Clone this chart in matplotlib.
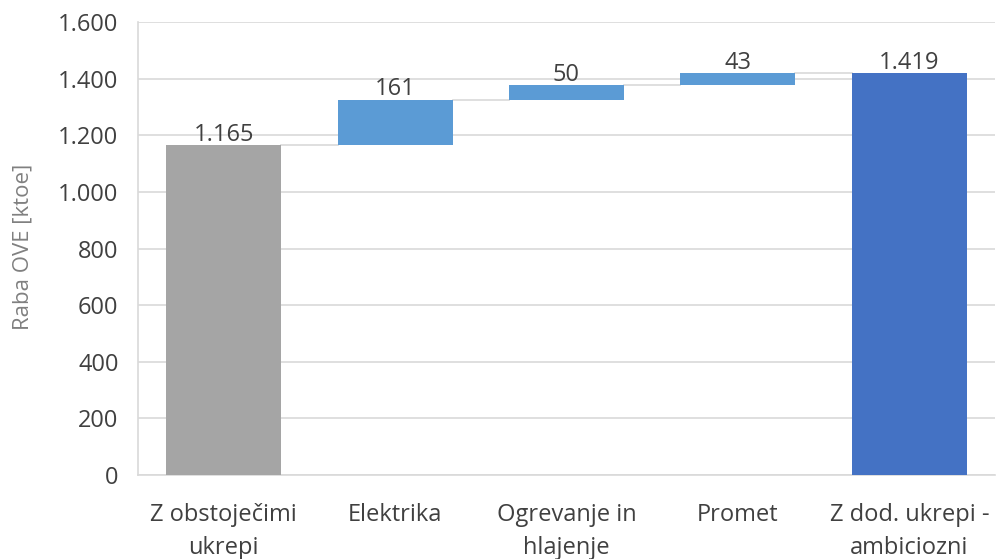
import matplotlib
matplotlib.use("Agg")
import matplotlib.pyplot as plt
from matplotlib.ticker import FuncFormatter, MultipleLocator

plt.rcParams['font.family'] = ['Open Sans', 'DejaVu Sans']

categories = ['Z obstoječimi\nukrepi', 'Elektrika', 'Ogrevanje in\nhlajenje',
              'Promet', 'Z dod. ukrepi -\nambiciozni']
start_value = 1165
increments = [161, 50, 43]
end_value = 1419
labels = ['1.165', '161', '50', '43', '1.419']

gray = '#A5A5A5'
light_blue = '#5B9BD5'
dark_blue = '#4472C4'
grid_col = '#D9D9D9'
text_col = '#404040'

# waterfall: floating bars sit on the running total
bottoms = [0]
heights = [start_value]
run = start_value
for inc in increments:
    bottoms.append(run)
    heights.append(inc)
    run += inc
bottoms.append(0)
heights.append(end_value)
colors = [gray] + [light_blue] * len(increments) + [dark_blue]

fig = plt.figure(figsize=(9.97, 5.59), dpi=100)
ax = fig.add_axes([0.1384, 0.1503, 0.8596, 0.8103])

x = list(range(len(categories)))
width = 0.67
ax.bar(x, heights, width, bottom=bottoms, color=colors, zorder=3)

tops = [b + h for b, h in zip(bottoms, heights)]
for i in range(len(x) - 1):
    ax.plot([x[i] + width / 2, x[i + 1] - width / 2], [tops[i], tops[i]],
            color=grid_col, lw=1.2, zorder=2)

for xi, t, lab in zip(x, tops, labels):
    ax.annotate(lab, (xi, t), xytext=(0, -1), textcoords='offset points',
                ha='center', va='bottom', fontsize=17, color=text_col)

ax.set_xlim(-0.5, len(x) - 0.5)
ax.set_ylim(0, 1600)
ax.yaxis.set_major_locator(MultipleLocator(200))
ax.yaxis.set_major_formatter(FuncFormatter(lambda v, p: f'{int(v):,}'.replace(',', '.')))
ax.grid(axis='y', color=grid_col, lw=1.2, zorder=0)
ax.set_xticks(x)
ax.set_xticklabels(categories, fontsize=17, color=text_col, linespacing=1.5,
                   multialignment='center')
ax.tick_params(axis='y', labelsize=17, labelcolor=text_col, length=0, pad=14)
ax.tick_params(axis='x', length=0, pad=20)
fig.text(23 / 997, 0.559, 'Raba OVE [ktoe]', rotation=90, ha='center', va='center',
         fontsize=16, color='#808080')

for s in ['top', 'right']:
    ax.spines[s].set_visible(False)
for s in ['left', 'bottom']:
    ax.spines[s].set_color(grid_col)
    ax.spines[s].set_linewidth(1.2)

fig.savefig('out.png', dpi=100)
